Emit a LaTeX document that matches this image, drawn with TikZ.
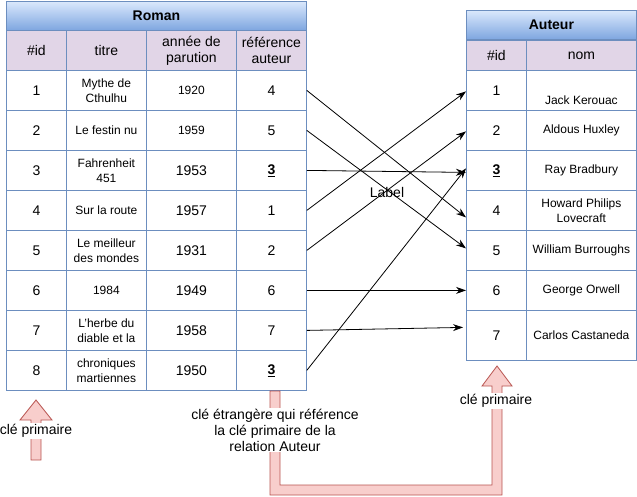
\documentclass[tikz,border=0pt]{standalone}
\usepackage{fontspec}
\setmainfont{Liberation Sans}
\usetikzlibrary{arrows.meta,calc}
\definecolor{bordc}{HTML}{6C8EBF}
\definecolor{hdrc}{HTML}{E1D5E7}
\definecolor{gtop}{HTML}{DAE8FC}
\definecolor{gbot}{HTML}{7EA6E0}
\definecolor{redf}{HTML}{F8CECC}
\definecolor{redd}{HTML}{B85450}
\newcommand\fa{\fontsize{14}{16}\selectfont}
\newcommand\fb{\fontsize{12}{15}\selectfont}
\begin{document}
\begin{tikzpicture}[x=1pt,y=-1pt,
  cell/.style={draw=bordc, line width=0.8pt, rectangle, inner sep=0pt, anchor=north west, align=center, font=\fa, minimum height=40pt},
  titlebar/.style={cell, top color=gtop, bottom color=gbot, font=\fa\bfseries, minimum height=29pt},
  hdr/.style={cell, fill=hdrc},
  small/.style={font=\fb},
  large/.style={font=\fa},
  wa/.style={minimum width=60pt},
  wb/.style={minimum width=80pt},
  wc/.style={minimum width=90pt},
  wd/.style={minimum width=70pt},
  we/.style={minimum width=110pt},
  link/.style={-{Stealth[length=10pt,width=7pt]}, line width=0.8pt},
  keyarrow/.style={fill=redf, draw=redd, line width=0.8pt},
  note/.style={fill=white, font=\fa, align=center, inner sep=1pt}]
\useasboundingbox (0,0) rectangle (637,496);
% Roman table
\node[titlebar, minimum width=300pt] (rtitle) at (6,1) {Roman};
\node[hdr, wa] (rh1) at (6,30) {\#id};
\node[hdr, wb] (rh2) at (66,30) {titre};
\node[hdr, wc] (rh3) at (146,30) {année de\\parution};
\node[hdr, wd] (rh4) at (236,30) {référence\\auteur};
\foreach \i/\t/\yr/\ys/\rf in {
  1/{Mythe de\\Cthulhu}/1920/small/4,
  2/{Le festin nu}/1959/small/5,
  3/{Fahrenheit\\451}/1953/large/{\bfseries\underline{3}},
  4/{Sur la route}/1957/large/1,
  5/{Le meilleur\\des mondes}/1931/large/2,
  6/{1984}/1949/large/6,
  7/{L'herbe du\\diable et la}/1958/large/7,
  8/{chroniques\\martiennes}/1950/large/{\bfseries\underline{3}}}
{
  \pgfmathsetmacro\yy{30+40*\i}
  \node[cell, wa] (r\i a) at (6,\yy) {\i};
  \node[cell, wb, small] (r\i b) at (66,\yy) {\t};
  \node[cell, wc, \ys] (r\i c) at (146,\yy) {\yr};
  \node[cell, wd] (r\i d) at (236,\yy) {\rf};
}
% Auteur table
\node[titlebar, minimum width=170pt] (atitle) at (466,10) {Auteur};
\node[hdr, wa, minimum height=30pt] (ah1) at (466,40) {\#id};
\node[hdr, we, minimum height=30pt] (ah2) at (526,40) {nom};
\foreach \i/\n in {2/{Aldous Huxley}, 3/{Ray Bradbury}, 4/{Howard Philips\\Lovecraft}, 5/{William Burroughs}, 6/{George Orwell}}
{
  \pgfmathsetmacro\yy{30+40*\i}
  \node[cell, wa] (a\i a) at (466,\yy) {\ifnum\i=3 \bfseries\underline{3}\else\i\fi};
  \node[cell, we, small] (a\i b) at (526,\yy) {\n};
}
\node[cell, wa] (a1a) at (466,70) {1};
\node[cell, we, label={[font=\fb, yshift=-10pt]center:Jack Kerouac}] (a1b) at (526,70) {};
\node[cell, wa, minimum height=50pt] (a7a) at (466,310) {7};
\node[cell, we, small, minimum height=50pt] (a7b) at (526,310) {Carlos Castaneda};
% links
\draw[link] (r1d.east) -- ($(a4a.west)+(0,7)$);
\draw[link] (r2d.east) -- ($(a5a.west)+(0,-2)$);
\draw[link] (r3d.east) -- ($(a3a.west)+(0,2)$);
\draw[link] (r4d.east) -- ($(a1a.west)+(0,1)$);
\draw[link] (r5d.east) -- ($(a2a.west)+(0,1)$);
\draw[link] (r6d.east) -- (a6a.west);
\draw[link] (r7d.east) -- ($(a7a.west)+(-3,-8)$);
\draw[link] (r8d.east) -- ($(a3a.west)+(0,-2)$);
\node[font=\fa] (lbl) at (387,192) {Label};
% key arrows
\draw[keyarrow] (36,400) -- (52,420) -- (41,420) -- (41,460) -- (31,460) -- (31,420) -- (20,420) -- cycle;
\draw[keyarrow] (270,391) -- (270,495) -- (502,495) -- (502,386) -- (512,386) -- (497,366) -- (482,386) -- (492,386) -- (492,485) -- (280,485) -- (280,391) -- cycle;
\node[note] (pk1) at (36,431) {clé primaire};
\node[note] (pk2) at (496,401) {clé primaire};
\node[note] (fk) at (275,430) {clé étrangère qui référence\\la clé primaire de la\\relation Auteur};
\end{tikzpicture}
\end{document}
